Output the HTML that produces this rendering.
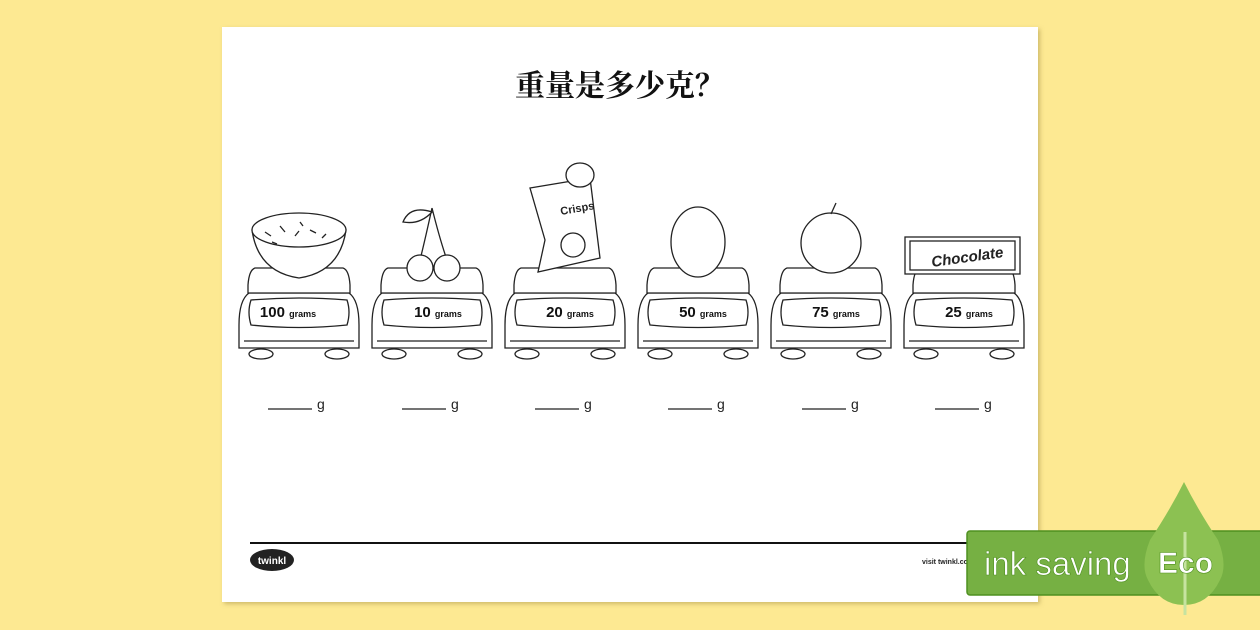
<!DOCTYPE html>
<html><head><meta charset="utf-8"><style>
html,body{margin:0;padding:0}
body{width:1260px;height:630px;background:#fde992;position:relative;overflow:hidden;font-family:"Liberation Sans","Noto Sans CJK SC",sans-serif}
</style></head><body>
<svg width="1260" height="630" viewBox="0 0 1260 630" style="position:absolute;left:0;top:0">
<defs>
<filter id="sh" x="-5%" y="-5%" width="110%" height="110%"><feDropShadow dx="2" dy="2" stdDeviation="2" flood-color="#a08a40" flood-opacity="0.5"/></filter>
<g id="scale" fill="#fff" stroke="#222" stroke-width="1.3">
<ellipse cx="-38" cy="354" rx="12" ry="5"/>
<ellipse cx="38" cy="354" rx="12" ry="5"/>
<path d="M-50 293 L50 293 Q60 300 60 325 L60 348 L-60 348 L-60 325 Q-60 300 -50 293Z"/>
<path d="M-55 341 L55 341"/>
<path d="M-48 300 Q0 296 48 300 Q52 312 48 325 Q0 330 -48 325 Q-52 312 -48 300Z"/>
<path d="M-44 268 L44 268 Q50 270 51 285 L51 293 L-51 293 L-51 285 Q-50 270 -44 268Z"/>
</g>
</defs>
<rect x="222" y="27" width="816" height="575" fill="#fff" filter="url(#sh)"/>
<text x="620" y="96" text-anchor="middle" font-size="30" font-weight="bold" font-family="'Noto Serif CJK SC','Noto Sans CJK SC',serif" fill="#111">重量是多少克？</text>

<use href="#scale" x="299"/><use href="#scale" x="432"/><use href="#scale" x="565"/>
<use href="#scale" x="698"/><use href="#scale" x="831"/><use href="#scale" x="964"/>

<g fill="#111" font-weight="bold">
<text x="288" y="317" font-size="15" text-anchor="middle">100 <tspan font-size="9">grams</tspan></text>
<text x="438" y="317" font-size="15" text-anchor="middle">10 <tspan font-size="9">grams</tspan></text>
<text x="570" y="317" font-size="15" text-anchor="middle">20 <tspan font-size="9">grams</tspan></text>
<text x="703" y="317" font-size="15" text-anchor="middle">50 <tspan font-size="9">grams</tspan></text>
<text x="836" y="317" font-size="15" text-anchor="middle">75 <tspan font-size="9">grams</tspan></text>
<text x="969" y="317" font-size="15" text-anchor="middle">25 <tspan font-size="9">grams</tspan></text>
</g>

<g fill="#fff" stroke="#222" stroke-width="1.3">
<path d="M252 230 Q299 200 346 230 Q340 272 299 278 Q258 272 252 230Z"/>
<ellipse cx="299" cy="230" rx="47" ry="17"/>
<path d="M265 232 l6 4 M280 226 l5 6 M295 236 l4 -5 M310 230 l6 3 M322 238 l4 -4 M272 242 l5 2 M300 222 l3 4" />
<path d="M432 208 Q425 240 420 260 M432 208 Q440 240 447 260" fill="none"/>
<path d="M432 212 Q410 205 403 222 Q420 225 432 212Z"/>
<circle cx="420" cy="268" r="13"/><circle cx="447" cy="268" r="13"/>
<path d="M530 188 L590 178 L600 258 L538 272 L545 240 Z"/>
<ellipse cx="580" cy="175" rx="14" ry="12"/>
<circle cx="573" cy="245" r="12"/>
<ellipse cx="698" cy="242" rx="27" ry="35"/>
<circle cx="831" cy="243" r="30"/>
<path d="M831 214 L836 203" fill="none"/>
<rect x="905" y="237" width="115" height="37"/>
<rect x="910" y="241" width="105" height="29" fill="none"/>
</g>
<text x="561" y="215" font-size="11" font-weight="bold" transform="rotate(-10 561 215)" fill="#222">Crisps</text>
<text x="968" y="262" font-size="15" font-weight="bold" font-style="italic" text-anchor="middle" fill="#222" transform="rotate(-8 968 262)">Chocolate</text>

<g stroke="#222" stroke-width="1.3">
<line x1="268" y1="409" x2="312" y2="409"/><line x1="402" y1="409" x2="446" y2="409"/>
<line x1="535" y1="409" x2="579" y2="409"/><line x1="668" y1="409" x2="712" y2="409"/>
<line x1="802" y1="409" x2="846" y2="409"/><line x1="935" y1="409" x2="979" y2="409"/>
</g>
<g font-size="14" fill="#222">
<text x="317" y="409">g</text><text x="451" y="409">g</text><text x="584" y="409">g</text>
<text x="717" y="409">g</text><text x="851" y="409">g</text><text x="984" y="409">g</text>
</g>

<line x1="250" y1="543" x2="1010" y2="543" stroke="#111" stroke-width="2"/>
<ellipse cx="272" cy="560" rx="22" ry="11" fill="#222"/>
<text x="272" y="564" font-size="10" font-weight="bold" fill="#fff" text-anchor="middle">twinkl</text>
<text x="922" y="564" font-size="7" font-weight="bold" fill="#222">visit twinkl.co</text>

<rect x="967" y="531" width="300" height="64" rx="3" fill="#76b043" stroke="#4f9020" stroke-width="1.5"/>
<path d="M1184 482 Q1170 510 1150 540 Q1140 565 1148 580 Q1160 605 1184 605 Q1208 605 1220 580 Q1228 565 1218 540 Q1198 510 1184 482Z" fill="#8cc152"/>
<line x1="1185" y1="532" x2="1185" y2="615" stroke="#c6e3a0" stroke-width="3"/>
<text x="984" y="575" font-size="33" fill="#fff" stroke="#4f9020" stroke-width="0.6">ink saving</text>
<text x="1158" y="573" font-size="30" font-weight="bold" fill="#fff" stroke="#4f9020" stroke-width="0.6">Eco</text>
</svg>
</body></html>
